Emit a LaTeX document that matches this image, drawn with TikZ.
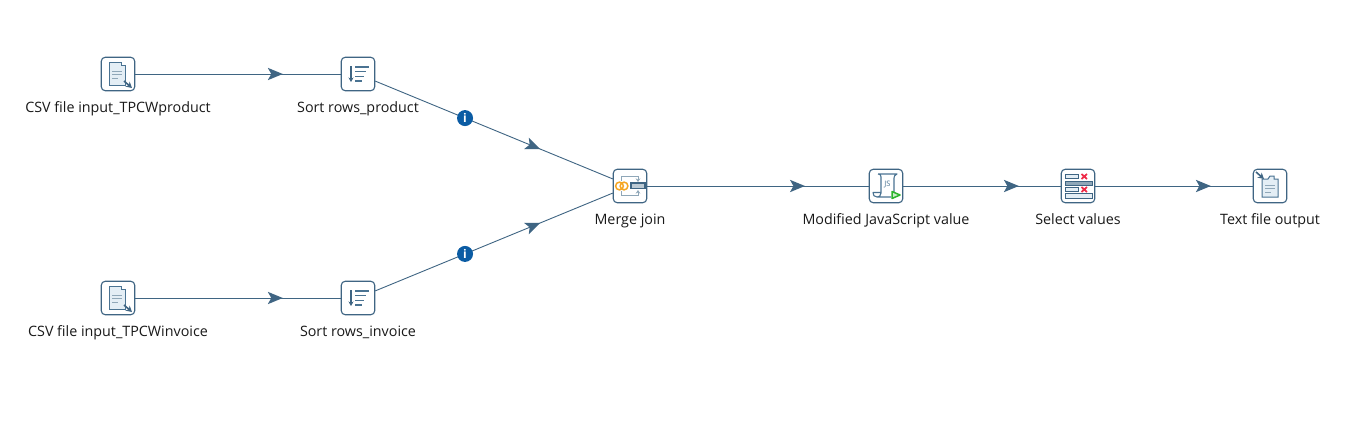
\documentclass[tikz,border=0pt]{standalone}
\usepackage{fontspec}
\setmainfont{Open Sans}
\usetikzlibrary{decorations.markings,arrows.meta}
\definecolor{flowcol}{HTML}{3F6583}
\definecolor{iconline}{HTML}{4A7392}
\definecolor{iconfill}{HTML}{E4EEF5}
\definecolor{icongray}{HTML}{8FA7B8}
\definecolor{infoblue}{HTML}{0B5CA4}
\definecolor{ringorange}{HTML}{F5A623}
\definecolor{runred}{HTML}{EE2B47}
\definecolor{rungreen}{HTML}{2DB52D}
\tikzset{
  x=1pt,y=-1pt,
  stepbox/.style={draw=flowcol,line width=1.1pt,rounded corners=4pt,fill=white,minimum size=33.5pt,inner sep=0pt},
  steplabel/.style={font=\fontsize{14.3}{16}\selectfont,text=black!90,inner sep=0pt,anchor=base},
  flow/.style={draw=flowcol,line width=0.9pt,postaction={decorate},
    decoration={markings,mark=at position #1 with {\fill[flowcol] (0,0)--(-15,-6.2)--(-11.5,0)--(-15,6.2)--cycle;}}},
  infobadge/.style={circle,fill=infoblue,minimum size=16pt,inner sep=0pt,text=white,font=\bfseries\fontsize{12}{12}\selectfont},
  docshape/.style={draw=iconline,line width=1pt,fill=iconfill},
  pics/csvicon/.style={code={
    \path[docshape] (-9,-12)--(3,-12)--(3,-9)--(7,-9)--(7,11)--(-9,11)--cycle;
    \draw[icongray,line width=1pt] (-6,-3)--(4,-3) (-6,0.5)--(4,0.5) (-6,4)--(0,4);
    \draw[flowcol,line width=1.6pt,-{Stealth[length=6pt,width=6.5pt]}] (6,7)--(14,14);
  }},
  pics/sorticon/.style={code={
    \draw[flowcol,line width=1.1pt,-{Stealth[length=4.5pt,width=5pt]}] (-7,-8)--(-7,8);
    \draw[iconline,line width=1.3pt] (-3,-7)--(11,-7) (-3,-2.5)--(8,-2.5) (-3,2.5)--(6,2.5) (-3,7)--(4,7);
  }},
  pics/mergeicon/.style={code={
    \draw[icongray,line width=1pt,-{Stealth[length=3.5pt,width=4.5pt]}] (-9,-5)--(-9,-9.5)--(8,-9.5)--(8,-4);
    \draw[icongray,line width=1pt,-{Stealth[length=3.5pt,width=4.5pt]}] (-9,5)--(-9,9.5)--(8,9.5)--(8,4);
    \draw[ringorange,line width=1.5pt] (-10.5,0) circle[radius=3.9] (-6,0) circle[radius=3.9];
    \draw[flowcol,line width=1.1pt,fill=icongray!60] (1,-3) rectangle (15,2.5);
  }},
  pics/jsicon/.style={code={
    \draw[iconline,line width=1.1pt,line join=round]
      (-8,-12) -- (11,-12) .. controls (9,-11) and (8,-10) .. (8,-8) -- (8,6)
      (-8,-12) .. controls (-6,-12) and (-5,-11) .. (-5,-9) -- (-5,7) .. controls (-5,10) and (-7,11) .. (-9,11)
      (-9,11) .. controls (-12,11) and (-13,9) .. (-13,6.5) -- (-5,6.5)
      (-9,11) -- (5,11);
    \node[text=iconline,inner sep=0pt,font=\fontsize{7.5}{7.5}\selectfont] at (1.5,-2) {JS};
    \path[draw=rungreen,line width=1.5pt,fill=rungreen!25,line join=round] (6,5.5)--(14,9)--(6,12.5)--cycle;
  }},
  pics/selecticon/.style={code={
    \draw[flowcol,line width=1pt,fill=iconfill] (-13,-12) rectangle (0,-7.5);
    \draw[flowcol,line width=1pt,fill=icongray] (-13,-5) rectangle (14,-1);
    \draw[flowcol,line width=1pt,fill=iconfill] (-13,1.5) rectangle (0,5.5);
    \draw[flowcol,line width=1pt,fill=iconfill] (-13,7.5) rectangle (14,12);
    \draw[runred,line width=1.7pt] (3.5,-12)--(9,-7) (3.5,-7)--(9,-12) (3.5,1)--(9,6) (3.5,6)--(9,1);
  }},
  pics/outicon/.style={code={
    \path[docshape] (-8,-7)--(-2,-7)--(0,-10)--(4,-10)--(4,-7)--(8,-7)--(8,11)--(-8,11)--cycle;
    \draw[icongray,line width=1pt] (-5,-1)--(5,-1) (-5,2.5)--(5,2.5) (-5,6)--(1,6);
    \draw[flowcol,line width=1.6pt,-{Stealth[length=6pt,width=6.5pt]}] (-14,-14)--(-6,-7);
  }},
}
\begin{document}
\begin{tikzpicture}
\useasboundingbox[fill=white] (0,0) rectangle (1345,421);
\node[stepbox] (csvp) at (118,74) {};
\node[stepbox] (csvi) at (118,298) {};
\node[stepbox] (sortp) at (358,74) {};
\node[stepbox] (sorti) at (358,298) {};
\node[stepbox] (merge) at (630,186) {};
\node[stepbox] (js) at (886,186) {};
\node[stepbox] (sel) at (1078,186) {};
\node[stepbox] (out) at (1270,186) {};
\draw[flow=0.718] (csvp) -- (sortp);
\draw[flow=0.718] (csvi) -- (sorti);
\draw[flow=0.695] (sortp) -- node[infobadge,pos=0.378] (infop) {i} (merge);
\draw[flow=0.695] (sorti) -- node[infobadge,pos=0.378] (infoi) {i} (merge);
\draw[flow=0.712] (merge) -- (js);
\draw[flow=0.734] (js) -- (sel);
\draw[flow=0.734] (sel) -- (out);
\pic at (csvp) {csvicon};
\pic at (csvi) {csvicon};
\pic at (sortp) {sorticon};
\pic at (sorti) {sorticon};
\pic at (merge) {mergeicon};
\pic at (js) {jsicon};
\pic at (sel) {selecticon};
\pic at (out) {outicon};
\node[steplabel] (lcsvp) at (118,112) {CSV file input\_TPCWproduct};
\node[steplabel] (lcsvi) at (118,336) {CSV file input\_TPCWinvoice};
\node[steplabel] (lsortp) at (358,112) {Sort rows\_product};
\node[steplabel] (lsorti) at (358,336) {Sort rows\_invoice};
\node[steplabel] (lmerge) at (630,224) {Merge join};
\node[steplabel] (ljs) at (886,224) {Modified JavaScript value};
\node[steplabel] (lsel) at (1078,224) {Select values};
\node[steplabel] (lout) at (1270,224) {Text file output};
\end{tikzpicture}
\end{document}
